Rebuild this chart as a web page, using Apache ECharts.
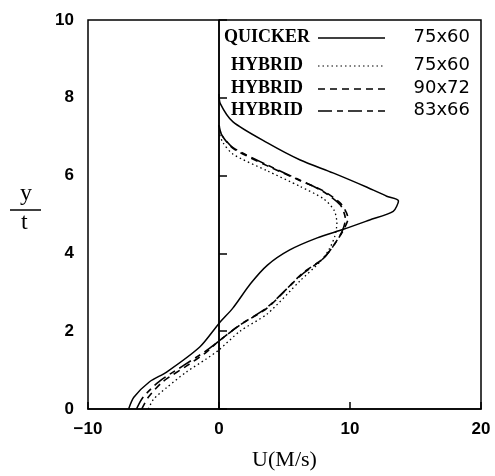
<!DOCTYPE html>
<html>
<head>
<meta charset="utf-8">
<script src="https://cdn.jsdelivr.net/npm/echarts@6/dist/echarts.min.js"></script>
<style>
  html, body { margin: 0; padding: 0; background: #fff; }
  #main { width: 495px; height: 476px; }
</style>
</head>
<body>
<div id="main"></div>
<script>
var dom = document.getElementById("main");
var myChart = echarts.init(dom);
var option = null;

// U (M/s) vs y/t
var quicker = [[-6.9,0],[-6.5,0.3],[-5.3,0.7],[-4.0,0.95],[-1.45,1.6],[0,2.2],[1.07,2.6],[2.4,3.22],
  [3.7,3.7],[5.4,4.09],[7.5,4.4],[9.5,4.62],[11.5,4.86],[13.3,5.08],[13.7,5.35],[12.8,5.47],
  [11.3,5.7],[8.7,6.07],[6.2,6.4],[3.7,6.84],[1.07,7.38],[0.1,7.85],[0,8.1]];
var hybrid7560 = [[-5.4,0],[-5.0,0.25],[-4.0,0.55],[-2.5,0.95],[-1,1.28],[0,1.52],[1.6,2.0],[3.7,2.45],
  [6.2,3.3],[7.7,3.78],[8.4,4.1],[8.85,4.45],[9.0,4.78],[8.8,5.1],[8.0,5.4],[6.2,5.72],
  [3.7,6.12],[1.07,6.55],[0.3,6.85],[0,7.1]];
var hybrid9072 = [[-5.9,0],[-5.4,0.3],[-4.3,0.7],[-2.5,1.1],[-1,1.45],[0,1.75],[1.6,2.16],[3.7,2.6],
  [6.4,3.5],[7.9,3.85],[8.7,4.18],[9.5,4.6],[9.85,4.9],[9.3,5.28],[7.9,5.62],[6.2,5.87],
  [3.7,6.25],[1.07,6.7],[0.2,7.05],[0,7.3]];
var hybrid8366 = [[-6.3,0],[-5.8,0.3],[-4.6,0.7],[-2.7,1.12],[-1.1,1.47],[0,1.75],[1.6,2.16],[3.7,2.62],
  [6.3,3.45],[7.9,3.85],[8.7,4.18],[9.4,4.57],[9.65,4.88],[9.25,5.25],[7.9,5.6],[6.2,5.88],
  [3.7,6.27],[1.07,6.72],[0.2,7.05],[0,7.3]];

var legendNames = ['QUICKER', 'HYBRID', 'HYBRID', 'HYBRID'];
var legendGrids = ['75x60', '75x60', '90x72', '83x66'];
var legendDash = ['solid', [1.5, 3], [7, 5], [14, 5, 6, 5]];
var legendRows = [38, 66, 89, 111];

var graphics = [];
legendRows.forEach(function (yy, i) {
  graphics.push({
    type: 'text', left: i === 0 ? 224 : 231, top: yy - 10,
    style: { text: legendNames[i], font: 'bold 18px "Liberation Serif"', fill: '#000' }
  });
  graphics.push({
    type: 'line', shape: { x1: 318, y1: yy, x2: 385, y2: yy },
    style: { stroke: '#000', lineWidth: i === 1 ? 1.2 : 1.5, lineDash: legendDash[i] === 'solid' ? null : legendDash[i] }
  });
  graphics.push({
    type: 'text', right: 25, top: yy - 10,
    style: { text: legendGrids[i], font: '18px "DejaVu Sans"', fill: '#000' }
  });
});
// y/t fraction
graphics.push({ type: 'text', left: 20, top: 182, style: { text: 'y', font: '24px "Liberation Serif"', fill: '#000' } });
graphics.push({ type: 'line', shape: { x1: 10, y1: 210, x2: 41, y2: 210 }, style: { stroke: '#000', lineWidth: 1.5 } });
graphics.push({ type: 'text', left: 21, top: 211, style: { text: 't', font: '24px "Liberation Serif"', fill: '#000' } });

function mkSeries(name, data, type, width) {
  return {
    name: name, type: 'line', data: data, smooth: 0.25, symbol: 'none',
    lineStyle: { color: '#000', width: width, type: type },
    z: 3
  };
}

var series = [
  mkSeries('QUICKER 75x60', quicker, 'solid', 1.5),
  mkSeries('HYBRID 75x60', hybrid7560, [1.5, 3], 1.3),
  mkSeries('HYBRID 90x72', hybrid9072, [7, 5], 1.6),
  mkSeries('HYBRID 83x66', hybrid8366, [14, 5, 6, 5], 1.6)
];
series[0].markLine = {
  silent: true, symbol: 'none', label: { show: false },
  lineStyle: { color: '#000', type: 'solid', width: 1.5 },
  data: [{ xAxis: 0 }]
};

option = {
  animation: false,
  backgroundColor: '#fff',
  grid: { left: 88, right: 14, top: 20, bottom: 67, show: true, borderColor: '#000', borderWidth: 1.5 },
  xAxis: {
    type: 'value', min: -10, max: 20, interval: 10,
    name: 'U(M/s)', nameLocation: 'middle', nameGap: 40,
    nameTextStyle: { fontFamily: 'Liberation Serif', fontSize: 22, color: '#000' },
    axisLine: { lineStyle: { color: '#000', width: 1.5 } },
    axisTick: { inside: true, length: 7, lineStyle: { color: '#000', width: 1.5 } },
    axisLabel: { color: '#000', fontFamily: 'Liberation Sans', fontWeight: 'bold', fontSize: 17, margin: 12,
      formatter: function (v) { return String(v).replace('-', '\u2212'); } },
    splitLine: { show: false }
  },
  yAxis: {
    type: 'value', min: 0, max: 10, interval: 2,
    axisLine: { lineStyle: { color: '#000', width: 1.5 } },
    axisTick: { inside: true, length: 8, lineStyle: { color: '#000', width: 1.5 } },
    axisLabel: { color: '#000', fontFamily: 'Liberation Sans', fontWeight: 'bold', fontSize: 17, margin: 14 },
    splitLine: { show: false }
  },
  graphic: graphics,
  series: series
};
if (option && typeof option === "object") {
  myChart.setOption(option, true);
}
</script>
</body>
</html>
